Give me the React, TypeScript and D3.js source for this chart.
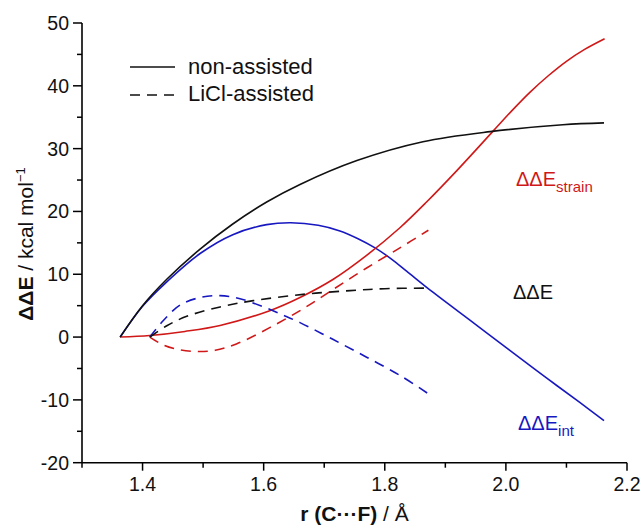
import React from "react";
import * as d3 from "d3";

// ---- data ----
const nonDeltaR = [1.363, 1.40, 1.44, 1.495, 1.549, 1.605, 1.66, 1.754, 1.863, 1.974, 2.094, 2.162];
const nonDeltaE = [0, 5.0, 9.2, 14.0, 18.0, 21.5, 24.3, 28.1, 31.1, 32.7, 33.8, 34.1];

const nonIntR = [1.363, 1.40, 1.44, 1.495, 1.549, 1.605, 1.645, 1.69, 1.726, 1.755, 1.784, 1.81, 1.836, 1.88, 1.946, 2.012, 2.067, 2.122, 2.162];
const nonIntE = [0, 4.9, 8.8, 13.3, 16.3, 17.9, 18.2, 17.8, 16.9, 15.7, 14.2, 12.5, 10.5, 7.1, 2.3, -2.5, -6.5, -10.4, -13.3];

const nonStrainR = [1.363, 1.412, 1.47, 1.528, 1.61, 1.66, 1.715, 1.77, 1.825, 1.869, 1.919, 1.98, 2.01, 2.04, 2.07, 2.10, 2.13, 2.163];
const nonStrainE = [0, 0.25, 0.9, 1.85, 4.2, 6.3, 9.2, 13.0, 17.4, 21.5, 26.5, 32.9, 36.05, 39.0, 41.6, 43.9, 45.8, 47.5];

const liDeltaR = [1.412, 1.44, 1.473, 1.528, 1.583, 1.665, 1.743, 1.80, 1.87];
const liDeltaE = [0, 1.8, 3.3, 4.8, 5.8, 6.8, 7.4, 7.7, 7.8];

const liStrainR = [1.412, 1.435, 1.46, 1.49, 1.52, 1.555, 1.61, 1.665, 1.715, 1.77, 1.825, 1.872];
const liStrainE = [0, -1.3, -2.0, -2.3, -2.1, -1.1, 1.5, 4.5, 7.6, 11.0, 14.2, 17.0];

const liIntR = [1.412, 1.434, 1.462, 1.495, 1.528, 1.561, 1.6, 1.632, 1.66, 1.715, 1.77, 1.825, 1.87];
const liIntE = [0, 2.6, 5.1, 6.3, 6.6, 6.1, 4.8, 3.5, 2.3, -0.4, -3.2, -6.1, -8.9];

const xTickValues = [1.4, 1.6, 1.8, 2.0, 2.2];
const xMinorValues = [1.3, 1.5, 1.7, 1.9, 2.1];
const yTickValues = [-20, -10, 0, 10, 20, 30, 40, 50];
const yMinorValues = [-15, -5, 5, 15, 25, 35, 45];

const legendLabels = ["non-assisted", "LiCl-assisted"];

// ---- styles ----
const W = 641;
const H = 528;
const left = 82;
const right = 627;
const top = 23;
const bottom = 462.7;
const FONT = "'Liberation Sans', Arial, Helvetica, sans-serif";
const BLACK = "#111111";
const RED = "#d01818";
const BLUE = "#1818c0";
const DASH = "10,7";

export default function App() {
  const x = d3.scaleLinear().domain([1.3, 2.2]).range([left, right]);
  const y = d3.scaleLinear().domain([-20, 50]).range([bottom, top]);

  const mk = (rs: number[], vs: number[]) => {
    const line = d3
      .line<number>()
      .x((_, i) => x(rs[i]))
      .y((v) => y(v))
      .curve(d3.curveCatmullRom.alpha(0.5));
    return line(vs) || "";
  };

  const series = [
    { d: mk(nonIntR, nonIntE), color: BLUE, dash: undefined },
    { d: mk(nonStrainR, nonStrainE), color: RED, dash: undefined },
    { d: mk(nonDeltaR, nonDeltaE), color: BLACK, dash: undefined },
    { d: mk(liIntR, liIntE), color: BLUE, dash: DASH },
    { d: mk(liStrainR, liStrainE), color: RED, dash: DASH },
    { d: mk(liDeltaR, liDeltaE), color: BLACK, dash: DASH },
  ];

  const fmt = d3.format(".1f");

  return (
    <svg
      width={W}
      height={H}
      viewBox={`0 0 ${W} ${H}`}
      style={{ position: "absolute", left: 0, top: 0, background: "#fff" }}
      fontFamily={FONT}
    >
      <rect x={0} y={0} width={W} height={H} fill="#fff" />

      {/* curves */}
      {series.map((s, i) => (
        <path
          key={i}
          d={s.d}
          fill="none"
          stroke={s.color}
          strokeWidth={1.6}
          strokeDasharray={s.dash}
        />
      ))}

      {/* axes */}
      <line x1={left} x2={left} y1={top} y2={bottom} stroke="#000" strokeWidth={1.6} />
      <line x1={left} x2={right} y1={bottom} y2={bottom} stroke="#000" strokeWidth={1.6} />

      {yTickValues.map((v) => (
        <g key={"yt" + v}>
          <line x1={left - 9} x2={left} y1={y(v)} y2={y(v)} stroke="#000" strokeWidth={1.5} />
          <text x={left - 13} y={y(v) + 7} fontSize={19.5} textAnchor="end" fill="#111">
            {v}
          </text>
        </g>
      ))}
      {yMinorValues.map((v) => (
        <line key={"ym" + v} x1={left - 5} x2={left} y1={y(v)} y2={y(v)} stroke="#000" strokeWidth={1.5} />
      ))}
      {xTickValues.map((v) => (
        <g key={"xt" + v}>
          <line x1={x(v)} x2={x(v)} y1={bottom} y2={bottom + 8} stroke="#000" strokeWidth={1.5} />
          <text x={x(v)} y={bottom + 28} fontSize={19.5} textAnchor="middle" fill="#111">
            {fmt(v)}
          </text>
        </g>
      ))}
      {xMinorValues.map((v) => (
        <line key={"xm" + v} x1={x(v)} x2={x(v)} y1={bottom} y2={bottom + 5} stroke="#000" strokeWidth={1.5} />
      ))}

      {/* axis titles */}
      <text x={354.5} y={521} fontSize={21} textAnchor="middle" fill="#111">
        <tspan fontWeight="bold">r (C···F)</tspan>
        <tspan> / Å</tspan>
      </text>
      <text
        transform="translate(33,244) rotate(-90)"
        fontSize={21}
        textAnchor="middle"
        fill="#111"
      >
        <tspan fontWeight="bold">ΔΔE</tspan>
        <tspan> / kcal mol</tspan>
        <tspan fontSize={13} dy={-8}>−1</tspan>
      </text>

      {/* legend */}
      <line x1={130} x2={175} y1={67} y2={67} stroke={BLACK} strokeWidth={1.6} />
      <text x={188} y={74} fontSize={22} fill="#111">
        {legendLabels[0]}
      </text>
      <line x1={130} x2={175} y1={95} y2={95} stroke={BLACK} strokeWidth={1.6} strokeDasharray={DASH} />
      <text x={188} y={101} fontSize={22} fill="#111">
        {legendLabels[1]}
      </text>

      {/* series labels */}
      <text x={516} y={186} fontSize={20} fill={RED}>
        ΔΔE
        <tspan fontSize={15} dy={6}>strain</tspan>
      </text>
      <text x={513} y={299} fontSize={20} fill={BLACK}>
        ΔΔE
      </text>
      <text x={518} y={430} fontSize={20} fill={BLUE}>
        ΔΔE
        <tspan fontSize={15} dy={6}>int</tspan>
      </text>
    </svg>
  );
}
